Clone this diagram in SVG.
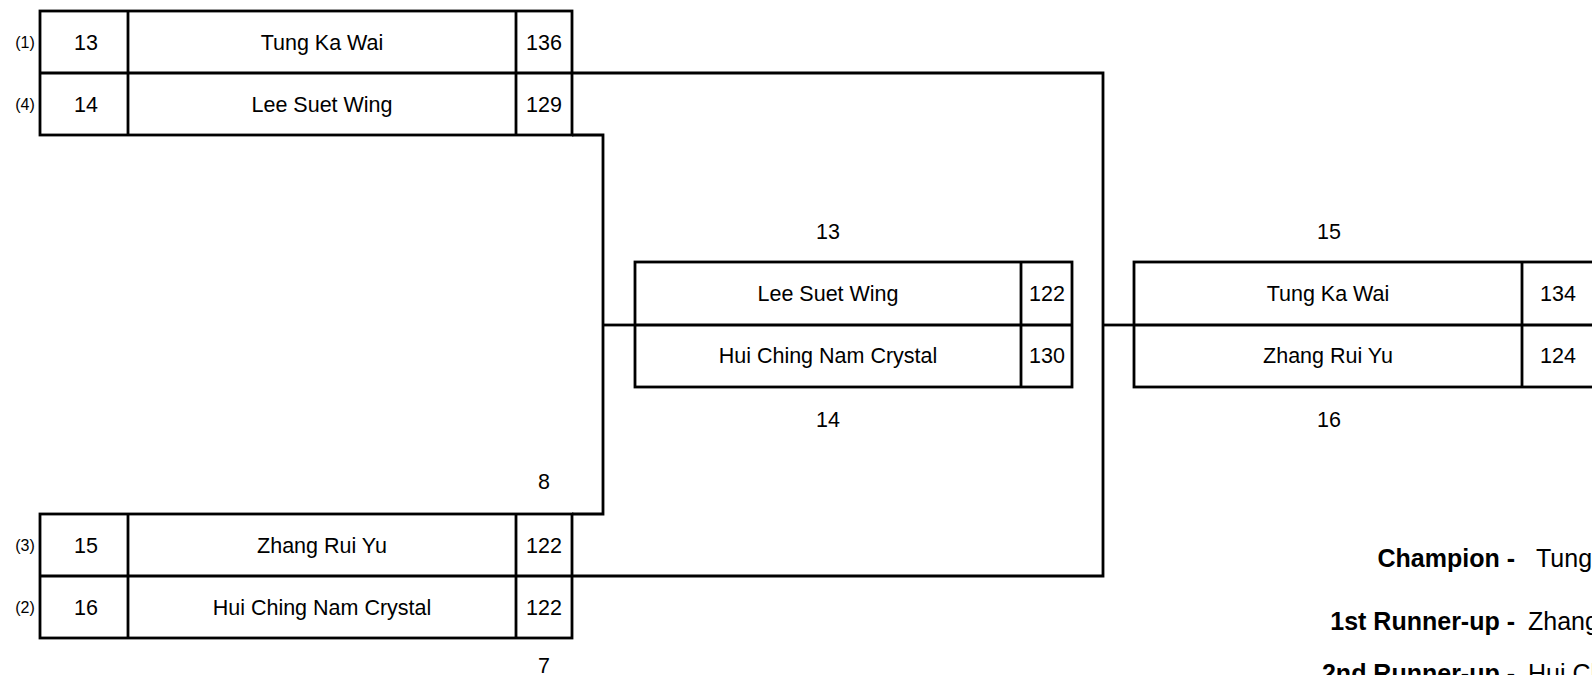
<svg xmlns="http://www.w3.org/2000/svg" width="1592" height="675" viewBox="0 0 1592 675">
<style>
.box{fill:#fff;stroke:#000;stroke-width:2.8}
.ln{fill:none;stroke:#000;stroke-width:2.8}
text{font-family:"Liberation Sans",Arial,sans-serif;fill:#000}
.t{font-size:21.5px;text-anchor:middle}
.s{font-size:16px;text-anchor:middle}
.b{font-size:25px;font-weight:bold;text-anchor:end}
.r{font-size:25px;text-anchor:start}
</style>
<rect width="1592" height="675" fill="#fff"/>
<g id="connectors">
<polyline class="ln" points="572,73 1103,73 1103,576 572,576"/>
<line class="ln" x1="1103" y1="325" x2="1134" y2="325"/>
<polyline class="ln" points="572,135 603,135 603,514 572,514"/>
<line class="ln" x1="603" y1="325" x2="635" y2="325"/>
</g>
<g id="match1">
<rect class="box" x="40" y="11" width="532" height="124"/>
<line class="ln" x1="40" y1="73" x2="572" y2="73"/>
<line class="ln" x1="128" y1="11" x2="128" y2="135"/>
<line class="ln" x1="516" y1="11" x2="516" y2="135"/>
<text class="s" x="25" y="48">(1)</text>
<text class="s" x="25" y="110">(4)</text>
<text class="t" x="86" y="50">13</text>
<text class="t" x="322" y="50">Tung Ka Wai</text>
<text class="t" x="544" y="50">136</text>
<text class="t" x="86" y="112">14</text>
<text class="t" x="322" y="112">Lee Suet Wing</text>
<text class="t" x="544" y="112">129</text>
</g>
<g id="match2">
<text class="t" x="544" y="489">8</text>
<rect class="box" x="40" y="514" width="532" height="124"/>
<line class="ln" x1="40" y1="576" x2="572" y2="576"/>
<line class="ln" x1="128" y1="514" x2="128" y2="638"/>
<line class="ln" x1="516" y1="514" x2="516" y2="638"/>
<text class="s" x="25" y="551">(3)</text>
<text class="s" x="25" y="613">(2)</text>
<text class="t" x="86" y="553">15</text>
<text class="t" x="322" y="553">Zhang Rui Yu</text>
<text class="t" x="544" y="553">122</text>
<text class="t" x="86" y="615">16</text>
<text class="t" x="322" y="615">Hui Ching Nam Crystal</text>
<text class="t" x="544" y="615">122</text>
<text class="t" x="544" y="673">7</text>
</g>
<g id="match3">
<text class="t" x="828" y="239">13</text>
<rect class="box" x="635" y="262" width="437" height="125"/>
<line class="ln" x1="635" y1="325" x2="1072" y2="325"/>
<line class="ln" x1="1021" y1="262" x2="1021" y2="387"/>
<text class="t" x="828" y="301">Lee Suet Wing</text>
<text class="t" x="1047" y="301">122</text>
<text class="t" x="828" y="363">Hui Ching Nam Crystal</text>
<text class="t" x="1047" y="363">130</text>
<text class="t" x="828" y="427">14</text>
</g>
<g id="final">
<text class="t" x="1329" y="239">15</text>
<rect class="box" x="1134" y="262" width="500" height="125"/>
<line class="ln" x1="1134" y1="325" x2="1634" y2="325"/>
<line class="ln" x1="1522" y1="262" x2="1522" y2="387"/>
<text class="t" x="1328" y="301">Tung Ka Wai</text>
<text class="t" x="1558" y="301">134</text>
<text class="t" x="1328" y="363">Zhang Rui Yu</text>
<text class="t" x="1558" y="363">124</text>
<text class="t" x="1329" y="427">16</text>
</g>
<g id="results">
<text class="b" x="1515" y="567">Champion -</text>
<text class="r" x="1536" y="567">Tung Ka Wai</text>
<text class="b" x="1515" y="630">1st Runner-up -</text>
<text class="r" x="1528" y="630">Zhang Rui Yu</text>
<text class="b" x="1515" y="682">2nd Runner-up -</text>
<text class="r" x="1528" y="682">Hui Ching Nam Crystal</text>
</g>
</svg>
